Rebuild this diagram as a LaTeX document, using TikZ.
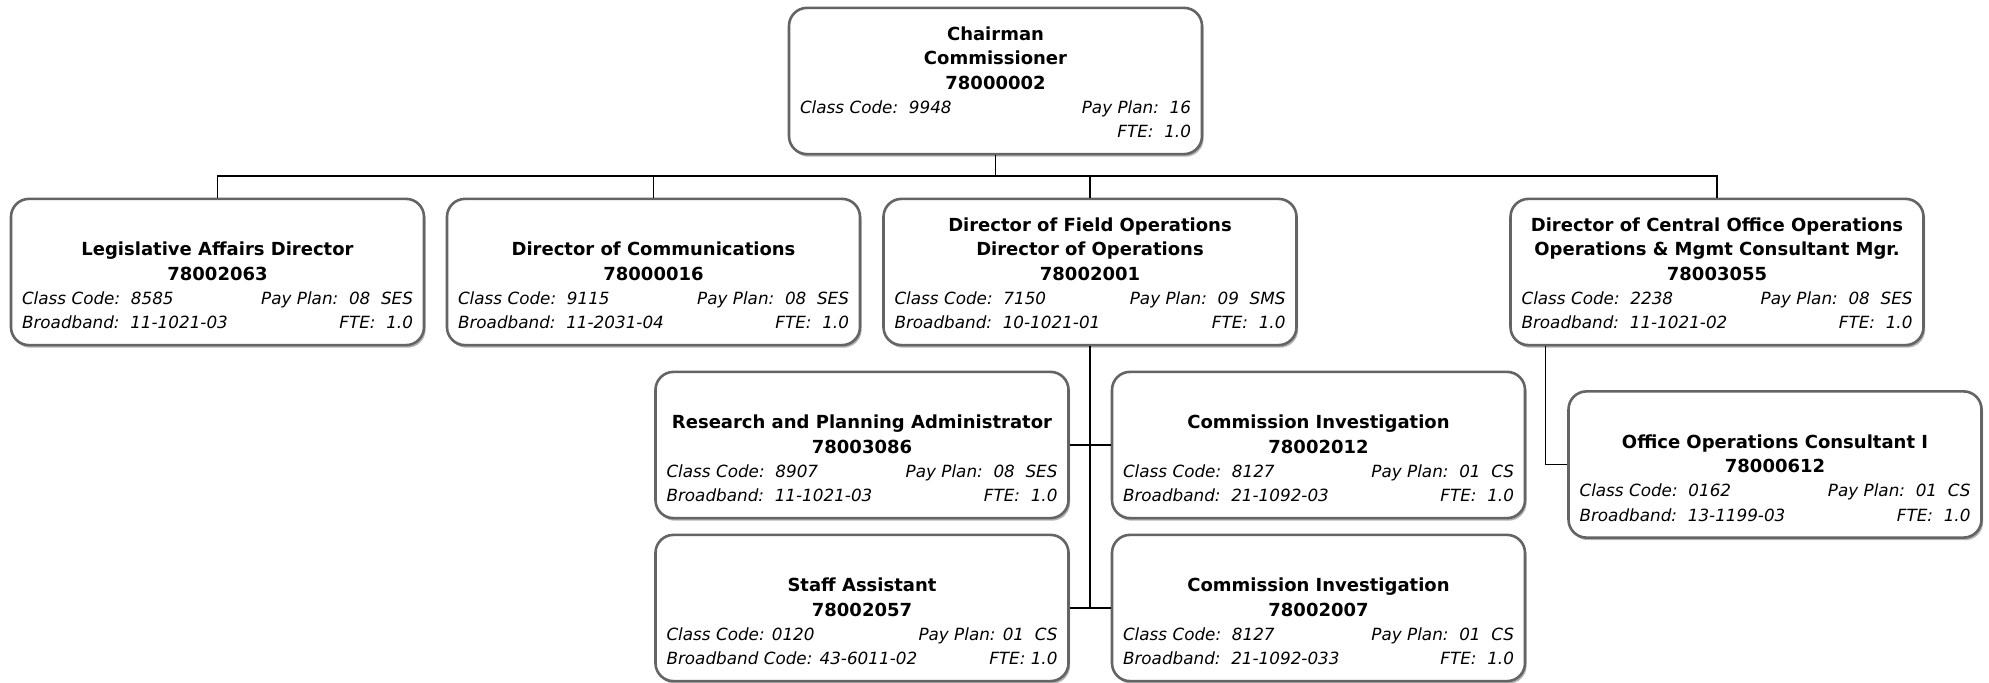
\documentclass[tikz,border=0pt]{standalone}
\usepackage{fontspec}
\setmainfont{DejaVu Sans}
\usetikzlibrary{shadows}

\definecolor{boxgray}{RGB}{100,100,100}
\definecolor{shadegray}{RGB}{180,180,180}

\newcommand{\titlefont}{\fontsize{9}{12.2}\selectfont\bfseries}
\newcommand{\infofont}{\fontsize{8.4}{12.2}\selectfont\itshape}
\newcommand{\posbody}[2]{\parbox[c][57pt][b]{195.5pt}{\centering
  {\titlefont #1\par}{\infofont #2\par}}}

\tikzset{
  posn/.style={draw=boxgray, line width=1.3pt, rounded corners=9pt, fill=white,
    inner xsep=5.5pt, inner ysep=8pt,
    drop shadow={shadow xshift=0.8pt, shadow yshift=-1.3pt, fill=shadegray, opacity=1}},
  link/.style={draw=black, line width=0.65pt}
}

\begin{document}
\begin{tikzpicture}[x=0.5pt, y=-0.5pt]
  \useasboundingbox (0,0) rectangle (1989,683);

  % top of the chart
  \path (995.5,81) node(chair)[posn]
    {\posbody{Chairman\\Commissioner\\78000002}
      {Class Code:~~9948\hfill Pay Plan:~~16\\ \hfill FTE:~~1.0}};

  % directors
  \path (217.5,272) node(leg)[posn]
    {\posbody{Legislative Affairs Director\\78002063}
      {Class Code:~~8585\hfill Pay Plan:~~08~~SES\\Broadband:~~11-1021-03\hfill FTE:~~1.0}};
  \path (653.5,272) node(comm)[posn]
    {\posbody{Director of Communications\\78000016}
      {Class Code:~~9115\hfill Pay Plan:~~08~~SES\\Broadband:~~11-2031-04\hfill FTE:~~1.0}};
  \path (1090,272) node(field)[posn]
    {\posbody{Director of Field Operations\\Director of Operations\\78002001}
      {Class Code:~~7150\hfill Pay Plan:~~09~~SMS\\Broadband:~~10-1021-01\hfill FTE:~~1.0}};
  \path (1717,272) node(central)[posn]
    {\posbody{Director of Central Office Operations\\Operations \& Mgmt Consultant Mgr.\\78003055}
      {Class Code:~~2238\hfill Pay Plan:~~08~~SES\\Broadband:~~11-1021-02\hfill FTE:~~1.0}};

  % under field operations
  \path (862,445) node(research)[posn]
    {\posbody{Research and Planning Administrator\\78003086}
      {Class Code:~~8907\hfill Pay Plan:~~08~~SES\\Broadband:~~11-1021-03\hfill FTE:~~1.0}};
  \path (1318.5,445) node(invA)[posn]
    {\posbody{Commission Investigation\\78002012}
      {Class Code:~~8127\hfill Pay Plan:~~01~~CS\\Broadband:~~21-1092-03\hfill FTE:~~1.0}};
  \path (862,608) node(staff)[posn]
    {\posbody{Staff Assistant\\78002057}
      {Class Code: 0120\hfill Pay Plan: 01~~CS\\Broadband Code: 43-6011-02\hfill FTE: 1.0}};
  \path (1318.5,608) node(invB)[posn]
    {\posbody{Commission Investigation\\78002007}
      {Class Code:~~8127\hfill Pay Plan:~~01~~CS\\Broadband:~~21-1092-033\hfill FTE:~~1.0}};

  % under central office
  \path (1775,464.5) node(office)[posn]
    {\posbody{Office Operations Consultant I\\78000612}
      {Class Code:~~0162\hfill Pay Plan:~~01~~CS\\Broadband:~~13-1199-03\hfill FTE:~~1.0}};

  %% connecting lines
  \coordinate (bus) at (0,176);
  \draw[link] (chair.south) -- (chair.south |- bus);
  \draw[link] (leg.north) -- (leg.north |- bus) -- (central.north |- bus) -- (central.north);
  \draw[link] (comm.north) -- (comm.north |- bus);
  \draw[link] (field.north) -- (field.north |- bus);
  \draw[link] (field.south) -- (field.south |- staff.east);
  \draw[link] (research.east) -- (invA.west);
  \draw[link] (staff.east) -- (invB.west);
  \draw[link] ([xshift=18pt]central.south west) |- (office.west);
\end{tikzpicture}
\end{document}
